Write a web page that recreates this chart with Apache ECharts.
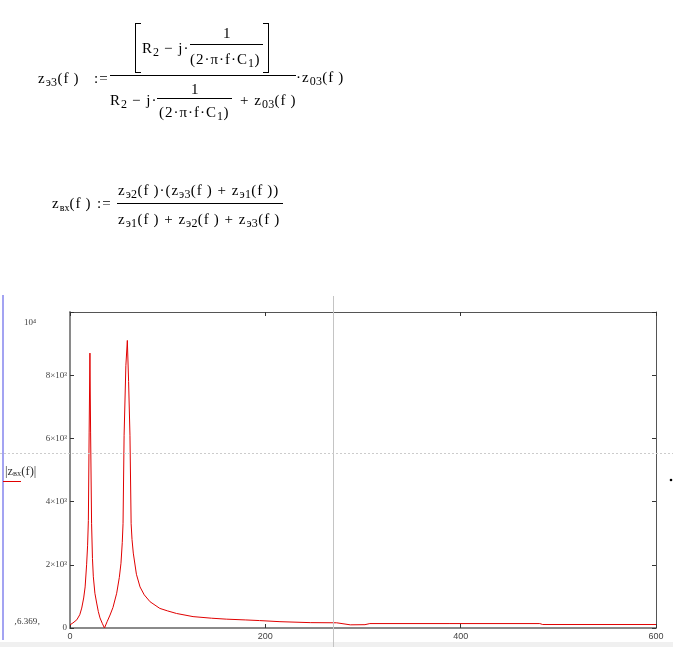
<!DOCTYPE html>
<html>
<head>
<meta charset="utf-8">
<script src="https://cdn.jsdelivr.net/npm/echarts@6/dist/echarts.min.js"></script>
<style>
  html, body { margin: 0; padding: 0; background: #fff; }
  #chart { position: absolute; left: 0; top: 0; width: 673px; height: 647px; }
  .f { position: absolute; font-family: 'Liberation Serif', 'Times New Roman', serif; font-size: 15px;
       letter-spacing: 1px; line-height: 16px; height: 16px; white-space: nowrap; color: #000; z-index: 2; }
  .f sub { font-size: 12px; line-height: 0; vertical-align: -3px; letter-spacing: 0.3px; }
  .f sub.sm { font-size: 10px; letter-spacing: 0; }
  .bar { position: absolute; border-top: 1px solid #000; height: 0; z-index: 2; }
  .brl { position: absolute; border: 1px solid #000; border-right: none; width: 5px; z-index: 2; }
  .brr { position: absolute; border: 1px solid #000; border-left: none; width: 5px; z-index: 2; }
</style>
</head>
<body>
<div id="chart"></div>

<!-- formula 1 -->
<div class="f" style="left:38px;top:70px">z<sub>э3</sub>(f&thinsp;)</div>
<div class="f" style="left:94px;top:70px">:=</div>
<div class="brl" style="left:135px;top:23px;height:48px"></div>
<div class="brr" style="left:263px;top:23px;height:48px"></div>
<div class="f" style="left:142px;top:40px">R<sub>2</sub> − j·</div>
<div class="f" style="left:223px;top:25px">1</div>
<div class="bar" style="left:190px;top:44px;width:73px"></div>
<div class="f" style="left:190px;top:51px">(2·π·f·C<sub>1</sub>)</div>
<div class="bar" style="left:110px;top:75px;width:186px"></div>
<div class="f" style="left:296px;top:69px">·z<sub>03</sub>(f&thinsp;)</div>
<div class="f" style="left:110px;top:92px">R<sub>2</sub> − j·</div>
<div class="f" style="left:191px;top:81px">1</div>
<div class="bar" style="left:157px;top:98px;width:75px"></div>
<div class="f" style="left:159px;top:104px">(2·π·f·C<sub>1</sub>)</div>
<div class="f" style="left:240px;top:92px">+ z<sub>03</sub>(f&thinsp;)</div>

<!-- formula 2 -->
<div class="f" style="left:52px;top:195px">z<sub class="sm">вх</sub>(f&thinsp;)</div>
<div class="f" style="left:97px;top:195px">:=</div>
<div class="f" style="left:118px;top:182px">z<sub>э2</sub>(f&thinsp;)·(z<sub>э3</sub>(f&thinsp;) + z<sub>э1</sub>(f&thinsp;))</div>
<div class="bar" style="left:117px;top:203px;width:166px"></div>
<div class="f" style="left:118px;top:211px">z<sub>э1</sub>(f&thinsp;) + z<sub>э2</sub>(f&thinsp;) + z<sub>э3</sub>(f&thinsp;)</div>

<script>
// frequency f (x) and |z_вх(f)| (y)
const freq = [0, 3, 7, 10, 12, 14, 15.5, 17, 18, 18.8, 19.6, 20.4, 21.1, 22.1, 23, 23.9, 25.5, 27.3, 29, 30.7, 33, 35.3,
  38, 41, 44, 47.8, 50.5, 52.2, 53.5, 54.3, 55.4, 57.2, 58.7, 60, 61.4, 62.6, 63.5, 64.8, 68, 71.7, 76, 82, 92, 100,
  109, 126, 145, 160, 180, 194, 215, 246, 273, 287, 302, 307, 389, 481, 484, 600];
const zin = [100, 160, 260, 420, 630, 950, 1300, 2000, 2600, 3400, 6200, 8700, 6200, 3300, 2200, 1620, 1100, 790, 520, 320, 150, 0,
  200, 410, 650, 1100, 1600, 2050, 2700, 3300, 6100, 8300, 9100, 7800, 6100, 3300, 2800, 2370, 1700, 1300, 1050, 830, 620, 540,
  460, 360, 310, 280, 255, 235, 200, 170, 165, 100, 105, 140, 140, 140, 110, 110];
const xTicks = [0, 200, 400, 600];
const yTickLabels = {0: '0', 2000: '2×10³', 4000: '4×10³', 6000: '6×10³', 8000: '8×10³', 10000: ''};
const cursorF = 269.5, cursorZ = 5540;

const chart = echarts.init(document.getElementById('chart'), null, {renderer: 'canvas'});
const serif = "'Liberation Serif', 'Times New Roman', serif";
const sans = "'Liberation Sans', Arial, sans-serif";

chart.setOption({
  animation: false,
  backgroundColor: '#ffffff',
  grid: {left: 70, right: 17, top: 312, bottom: 19, containLabel: false},
  xAxis: [{
    type: 'value', min: 0, max: 600, interval: 200, position: 'bottom',
    axisLine: {show: true, onZero: false, lineStyle: {color: '#8a8a8a', width: 2}},
    axisTick: {show: true, inside: true, length: 4, lineStyle: {color: '#333'}},
    axisLabel: {color: '#444', fontFamily: sans, fontSize: 9, margin: 4,
      formatter: v => xTicks.includes(v) ? String(v) : ''},
    splitLine: {show: false}
  }, {
    type: 'value', min: 0, max: 600, interval: 200, position: 'top',
    axisLine: {show: true, onZero: false, lineStyle: {color: '#555', width: 1}},
    axisTick: {show: true, inside: true, length: 4, lineStyle: {color: '#333'}},
    axisLabel: {show: false}, splitLine: {show: false}
  }],
  yAxis: [{
    type: 'value', min: 0, max: 10000, interval: 2000, position: 'left',
    axisLine: {show: true, onZero: false, lineStyle: {color: '#8a8a8a', width: 2}},
    axisTick: {show: true, inside: true, length: 4, lineStyle: {color: '#333'}},
    axisLabel: {color: '#444', fontFamily: serif, fontSize: 9, margin: 3,
      formatter: v => yTickLabels[v] !== undefined ? yTickLabels[v] : ''},
    splitLine: {show: false}
  }, {
    type: 'value', min: 0, max: 10000, interval: 2000, position: 'right',
    axisLine: {show: true, onZero: false, lineStyle: {color: '#555', width: 1}},
    axisTick: {show: true, inside: true, length: 4, lineStyle: {color: '#333'}},
    axisLabel: {show: false}, splitLine: {show: false}
  }],
  series: [{
    type: 'line', xAxisIndex: 0, yAxisIndex: 0,
    data: freq.map((f, i) => [f, zin[i]]),
    showSymbol: false, symbol: 'none', smooth: false,
    lineStyle: {color: '#e00000', width: 1},
    clip: true
  }]
});

const cx = chart.convertToPixel({xAxisIndex: 0}, cursorF);
const cy = chart.convertToPixel({yAxisIndex: 0}, cursorZ);

chart.setOption({
  graphic: [
    {type: 'rect', shape: {x: 0, y: 642, width: 673, height: 5}, style: {fill: '#f0f0f0'}, z: 0},
    {type: 'line', shape: {x1: 3, y1: 295, x2: 3, y2: 640}, style: {stroke: '#8484ee', lineWidth: 1.5}, z: 10},
    {type: 'line', shape: {x1: Math.round(cx) + 0.5, y1: 296, x2: Math.round(cx) + 0.5, y2: 647}, style: {stroke: '#c4c4c4', lineWidth: 1}, z: 10},
    {type: 'line', shape: {x1: 0, y1: Math.round(cy) + 0.5, x2: 673, y2: Math.round(cy) + 0.5}, style: {stroke: '#cccccc', lineWidth: 1, lineDash: [2, 2]}, z: 10},
    {type: 'circle', shape: {cx: 671, cy: 480, r: 1.3}, style: {fill: '#000'}, z: 10},
    {type: 'text', x: 24, y: 318, style: {text: '10⁴', font: "9px 'Liberation Serif', serif", fill: '#444'}, z: 10},
    {type: 'text', x: 5, y: 465, style: {
      text: '|z{s|вх}(f)|', font: "12.5px 'Liberation Serif', serif", fill: '#333',
      rich: {s: {fontSize: 8.5, fontFamily: 'Liberation Serif', fill: '#333', padding: [4, 0, 0, 0]}}
    }, z: 10},
    {type: 'line', shape: {x1: 3, y1: 481.5, x2: 21, y2: 481.5}, style: {stroke: '#e00000', lineWidth: 1}, z: 10},
    {type: 'text', x: 14, y: 617, style: {text: '‚6.369‚', font: "9px 'Liberation Serif', serif", fill: '#333'}, z: 10}
  ]
});
</script>
</body>
</html>
